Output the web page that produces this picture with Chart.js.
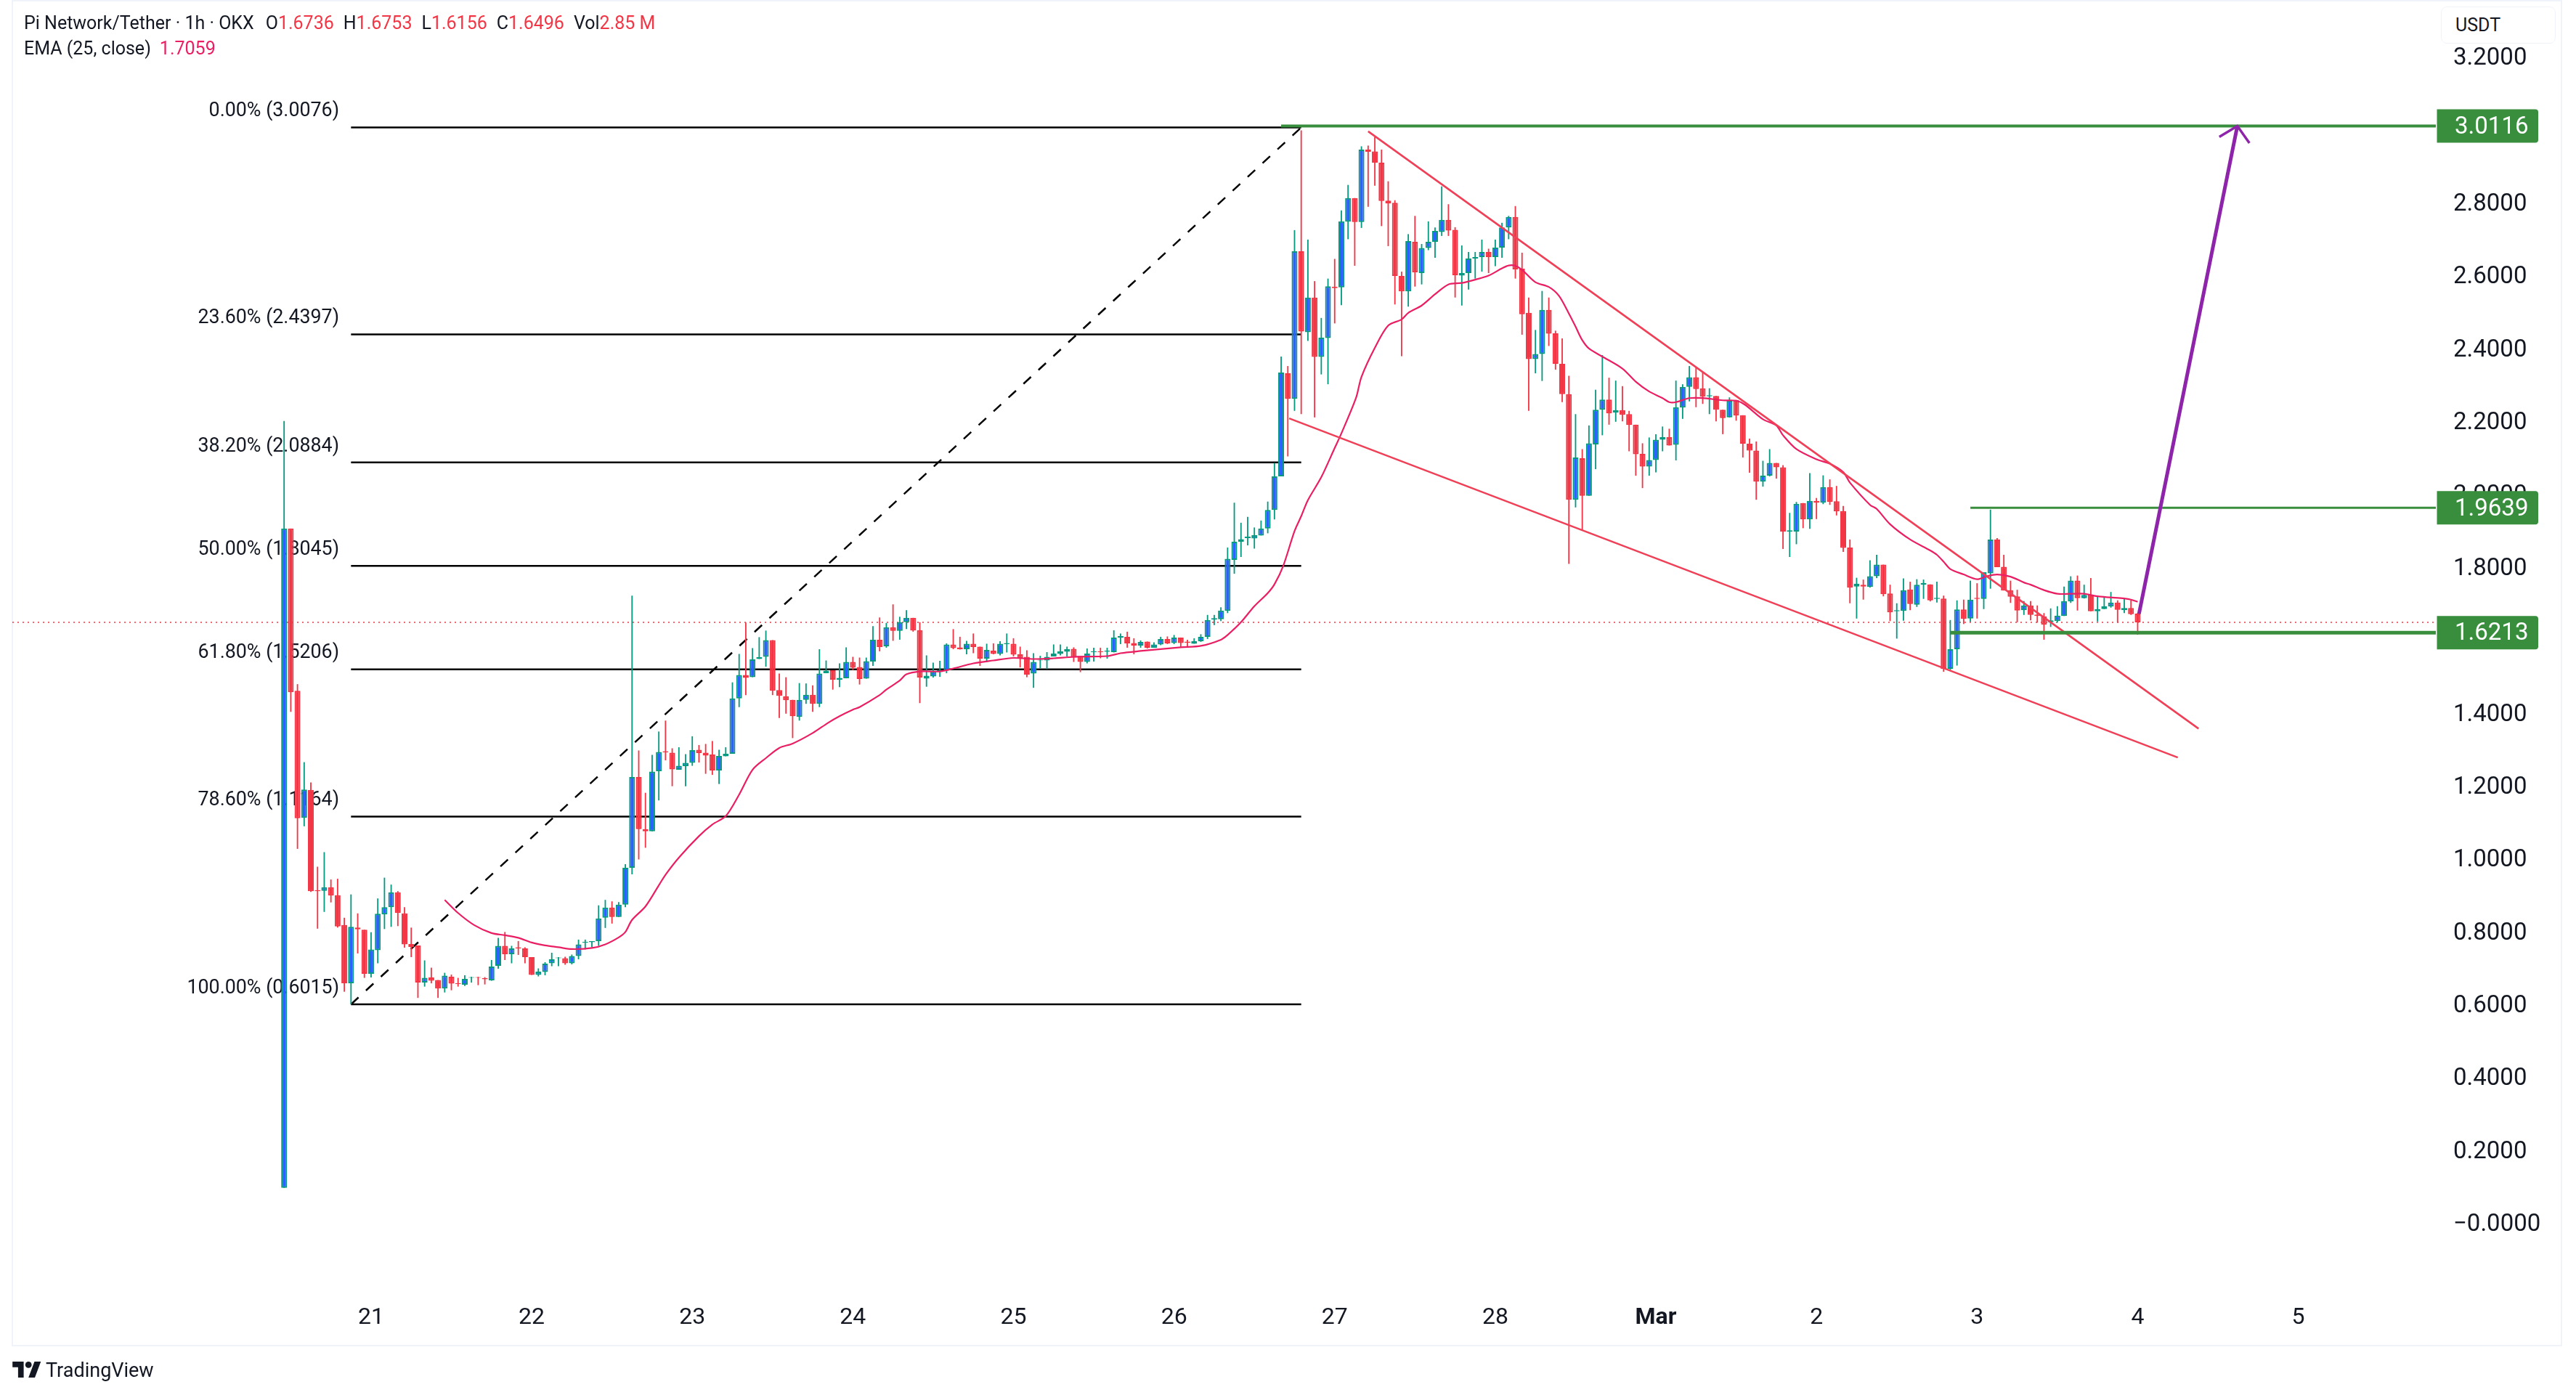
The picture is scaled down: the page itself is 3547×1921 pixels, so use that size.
<!DOCTYPE html>
<html>
<head>
<meta charset="utf-8">
<title>Pi Network/Tether 1h</title>
<script src="https://cdn.jsdelivr.net/npm/chart.js@4"></script>
<style>
  html, body { margin: 0; padding: 0; background: #fff; }
  body { width: 3547px; height: 1921px; position: relative; overflow: hidden; font-family: Roboto, sans-serif; color: #131722; }
  #frame { position: absolute; left: 16px; top: 0; width: 3508px; height: 1850px; border: 2px solid #f0f3fa; }
  #myChart { position: absolute; left: 0; top: 0; }
  .row { position: absolute; left: 33px; font-size: 25px; line-height: 34px; white-space: nowrap; }
  .row b { font-weight: 400; color: #f23645; margin-right: 13px; }
  .row i { font-style: normal; color: #e91e63; margin-left: 12px; }
  .row span { margin-right: 16px; }
  #usdt { position: absolute; left: 3361px; top: 9px; width: 137px; height: 49px; padding-left: 19px; border: 1px solid #f0f3fa; border-radius: 8px; background: #fff; font-size: 25px; line-height: 50px; }
  #logo { position: absolute; left: 17px; top: 1875px; width: 40px; height: 22px; }
  #brand { position: absolute; left: 63px; top: 1868px; font-size: 27px; line-height: 38px; color: #131722; }
</style>
</head>
<body>
<div id="frame"></div>
<canvas id="myChart" width="3547" height="1921"></canvas>
<div class="row" style="top:15px"><span>Pi Network/Tether · 1h · OKX</span><span style="margin-right:0">O</span><b>1.6736</b><span style="margin-right:0">H</span><b>1.6753</b><span style="margin-right:0">L</span><b>1.6156</b><span style="margin-right:0">C</span><b>1.6496</b><span style="margin-right:0">Vol</span><b>2.85 M</b></div>
<div class="row" style="top:50px">EMA (25, close)<i>1.7059</i></div>
<div id="usdt">USDT</div>
<svg id="logo" viewBox="0 0 36 20"><path fill="#131722" d="M14 20H7V7H0V0h14v20zM28 20h-8l7.5-20h8L28 20z"/><circle fill="#131722" cx="20" cy="4" r="4"/></svg>
<div id="brand">TradingView</div>

<script>
// hourly candles, index 0 is the first one on the chart, index 13 is 00:00 on the 21st
const opens = [
  0.098,1.907,1.462,1.113,1.19,0.915,0.913,0.923,0.901,0.819,
  0.659,0.812,0.806,0.685,0.75,0.848,0.868,0.909,0.851,0.767,
  0.763,0.661,0.675,0.668,0.645,0.677,0.659,0.655,0.674,0.676,
  0.673,0.667,0.707,0.762,0.739,0.758,0.755,0.731,0.682,0.69,
  0.714,0.728,0.728,0.714,0.734,0.771,0.772,0.775,0.839,0.867,
  0.841,0.875,0.976,1.225,1.082,1.076,1.241,1.296,1.292,1.245,
  1.255,1.264,1.3,1.292,1.287,1.243,1.282,1.289,1.441,1.505,
  1.499,1.549,1.555,1.601,1.464,1.447,1.437,1.39,1.437,1.451,
  1.426,1.51,1.518,1.492,1.496,1.541,1.527,1.495,1.542,1.602,
  1.584,1.636,1.626,1.65,1.662,1.628,1.495,1.501,1.513,1.517,
  1.589,1.581,1.576,1.591,1.583,1.55,1.572,1.563,1.59,1.591,
  1.562,1.555,1.509,1.545,1.545,1.556,1.563,1.569,1.577,1.557,
  1.541,1.568,1.57,1.569,1.568,1.608,1.61,1.593,1.586,1.597,
  1.58,1.589,1.604,1.593,1.608,1.597,1.591,1.598,1.61,1.657,
  1.658,1.681,1.821,1.871,1.881,1.88,1.888,1.907,1.958,2.05,
  2.333,2.263,2.668,2.446,2.541,2.378,2.43,2.571,2.569,2.749,
  2.814,2.748,2.947,2.942,2.911,2.807,2.801,2.6,2.558,2.694,
  2.608,2.677,2.694,2.721,2.754,2.727,2.601,2.608,2.648,2.652,
  2.666,2.652,2.678,2.733,2.762,2.62,2.499,2.372,2.386,2.507,
  2.443,2.359,2.276,1.986,2.1,1.997,2.138,2.233,2.261,2.225,
  2.232,2.221,2.192,2.112,2.077,2.095,2.151,2.158,2.137,2.239,
  2.296,2.322,2.292,2.27,2.271,2.233,2.212,2.26,2.218,2.14,
  2.121,2.036,2.052,2.087,2.075,1.899,1.899,1.977,1.932,1.983,
  1.978,2.021,1.982,1.955,1.855,1.748,1.753,1.747,1.776,1.808,
  1.729,1.68,1.681,1.74,1.698,1.753,1.754,1.714,1.715,1.522,
  1.576,1.685,1.66,1.717,1.714,1.784,1.877,1.802,1.738,1.721,
  1.683,1.696,1.671,1.666,1.65,1.653,1.667,1.707,1.764,1.716,
  1.726,1.68,1.686,1.693,1.704,1.683,1.689,1.6736
];
const highs = [
  2.202,1.907,1.48,1.266,1.21,0.979,1.019,0.944,0.946,0.839,
  0.903,0.851,0.806,0.799,0.892,0.949,0.93,0.912,0.868,0.812,
  0.763,0.722,0.702,0.668,0.688,0.683,0.674,0.681,0.677,0.677,
  0.676,0.723,0.784,0.8,0.762,0.775,0.758,0.731,0.7,0.717,
  0.743,0.731,0.732,0.738,0.779,0.779,0.775,0.873,0.888,0.884,
  0.882,0.986,1.723,1.298,1.182,1.286,1.35,1.38,1.304,1.307,
  1.288,1.337,1.313,1.316,1.324,1.3,1.307,1.485,1.563,1.649,
  1.579,1.609,1.627,1.601,1.509,1.499,1.437,1.483,1.482,1.477,
  1.576,1.545,1.518,1.537,1.581,1.555,1.553,1.553,1.639,1.663,
  1.648,1.699,1.665,1.683,1.662,1.65,1.559,1.539,1.544,1.592,
  1.631,1.61,1.599,1.619,1.583,1.591,1.592,1.598,1.619,1.606,
  1.583,1.573,1.565,1.558,1.568,1.589,1.589,1.583,1.581,1.557,
  1.578,1.58,1.58,1.58,1.628,1.619,1.624,1.606,1.6,1.597,
  1.595,1.61,1.611,1.615,1.608,1.602,1.606,1.617,1.67,1.67,
  1.691,1.855,1.978,1.923,1.939,1.91,1.929,1.981,2.087,2.379,
  2.353,2.726,3,2.7,2.586,2.485,2.593,2.647,2.78,2.85,
  2.814,2.956,2.958,2.982,2.947,2.86,2.808,2.612,2.715,2.765,
  2.688,2.75,2.733,2.846,2.797,2.734,2.684,2.666,2.666,2.7,
  2.675,2.7,2.746,2.765,2.792,2.664,2.541,2.452,2.559,2.541,
  2.45,2.429,2.326,2.221,2.125,2.19,2.288,2.383,2.321,2.313,
  2.298,2.23,2.192,2.141,2.157,2.166,2.187,2.181,2.313,2.303,
  2.353,2.349,2.335,2.292,2.271,2.233,2.267,2.26,2.218,2.154,
  2.146,2.093,2.125,2.087,2.081,1.95,1.98,1.977,2.059,1.991,
  2.053,2.042,2.024,1.969,1.877,1.772,1.767,1.82,1.835,1.808,
  1.753,1.702,1.77,1.761,1.768,1.767,1.754,1.761,1.723,1.656,
  1.71,1.712,1.764,1.757,1.787,1.959,1.881,1.835,1.764,1.739,
  1.708,1.708,1.696,1.675,1.688,1.694,1.748,1.776,1.778,1.753,
  1.771,1.722,1.718,1.733,1.71,1.716,1.71,1.6753
];
const lows = [
  0.098,1.404,1.028,1.09,0.91,0.809,0.855,0.881,0.812,0.636,
  0.6015,0.741,0.674,0.675,0.714,0.808,0.814,0.816,0.757,0.731,
  0.619,0.65,0.659,0.619,0.634,0.64,0.65,0.652,0.661,0.654,
  0.656,0.666,0.699,0.723,0.714,0.737,0.714,0.682,0.678,0.681,
  0.706,0.706,0.71,0.711,0.725,0.752,0.758,0.762,0.811,0.823,
  0.841,0.868,0.958,0.999,1.031,1.076,1.161,1.271,1.2,1.245,
  1.2,1.256,1.265,1.234,1.231,1.206,1.282,1.289,1.417,1.45,
  1.499,1.549,1.528,1.45,1.387,1.399,1.332,1.38,1.426,1.404,
  1.417,1.51,1.465,1.472,1.496,1.519,1.479,1.495,1.53,1.57,
  1.58,1.599,1.602,1.631,1.624,1.428,1.473,1.498,1.5,1.51,
  1.576,1.575,1.562,1.565,1.53,1.54,1.562,1.559,1.567,1.556,
  1.526,1.499,1.47,1.523,1.521,1.556,1.559,1.556,1.541,1.513,
  1.537,1.542,1.551,1.55,1.567,1.59,1.58,1.562,1.58,1.578,
  1.58,1.587,1.59,1.59,1.58,1.584,1.591,1.596,1.604,1.642,
  1.653,1.675,1.783,1.829,1.861,1.852,1.888,1.894,1.932,2.05,
  2.105,2.23,2.221,2.422,2.212,2.33,2.303,2.47,2.52,2.701,
  2.628,2.732,2.79,2.848,2.737,2.682,2.522,2.38,2.516,2.571,
  2.577,2.671,2.65,2.71,2.71,2.541,2.519,2.563,2.593,2.612,
  2.608,2.627,2.65,2.701,2.593,2.439,2.23,2.333,2.312,2.408,
  2.343,2.254,1.81,1.965,1.902,1.997,2.07,2.163,2.192,2.2,
  2.201,2.119,2.052,2.018,2.052,2.061,2.119,2.135,2.094,2.208,
  2.256,2.24,2.249,2.221,2.201,2.166,2.212,2.203,2.102,2.06,
  1.986,2.022,2.05,2.044,1.851,1.829,1.864,1.908,1.906,1.933,
  1.974,1.972,1.943,1.843,1.702,1.66,1.712,1.745,1.771,1.721,
  1.653,1.605,1.654,1.683,1.692,1.714,1.707,1.704,1.514,1.519,
  1.531,1.645,1.651,1.66,1.686,1.742,1.801,1.737,1.703,1.65,
  1.67,1.655,1.649,1.602,1.637,1.649,1.667,1.703,1.682,1.715,
  1.68,1.652,1.686,1.69,1.649,1.675,1.67,1.6156
];
const closes = [
  1.907,1.458,1.112,1.191,0.912,0.912,0.923,0.9,0.815,0.659,
  0.814,0.807,0.685,0.752,0.85,0.868,0.909,0.852,0.766,0.759,
  0.661,0.674,0.666,0.645,0.68,0.658,0.657,0.671,0.676,0.674,
  0.67,0.705,0.762,0.739,0.755,0.755,0.731,0.682,0.691,0.713,
  0.725,0.73,0.714,0.734,0.766,0.773,0.775,0.837,0.867,0.841,
  0.875,0.976,1.225,1.082,1.076,1.24,1.294,1.293,1.246,1.256,
  1.264,1.299,1.291,1.284,1.243,1.283,1.289,1.441,1.505,1.497,
  1.548,1.554,1.601,1.462,1.448,1.436,1.392,1.437,1.451,1.426,
  1.509,1.517,1.492,1.497,1.541,1.525,1.494,1.543,1.602,1.582,
  1.636,1.626,1.65,1.662,1.627,1.498,1.503,1.515,1.519,1.589,
  1.579,1.576,1.591,1.582,1.55,1.574,1.563,1.591,1.593,1.561,
  1.551,1.506,1.541,1.547,1.555,1.564,1.57,1.576,1.553,1.541,
  1.564,1.57,1.568,1.572,1.608,1.612,1.592,1.586,1.596,1.58,
  1.589,1.604,1.592,1.608,1.593,1.594,1.598,1.61,1.656,1.661,
  1.682,1.824,1.871,1.878,1.885,1.889,1.907,1.958,2.05,2.335,
  2.263,2.668,2.448,2.541,2.378,2.431,2.572,2.567,2.75,2.814,
  2.748,2.947,2.941,2.911,2.806,2.799,2.6,2.558,2.696,2.61,
  2.677,2.694,2.724,2.754,2.725,2.602,2.608,2.648,2.652,2.666,
  2.652,2.678,2.733,2.762,2.618,2.495,2.372,2.386,2.507,2.442,
  2.359,2.276,1.986,2.102,1.997,2.141,2.233,2.261,2.223,2.232,
  2.219,2.191,2.111,2.077,2.095,2.151,2.158,2.135,2.24,2.296,
  2.322,2.29,2.269,2.273,2.233,2.21,2.258,2.217,2.14,2.121,
  2.036,2.052,2.087,2.075,1.899,1.902,1.975,1.932,1.983,1.978,
  2.021,1.98,1.954,1.854,1.745,1.756,1.748,1.776,1.808,1.727,
  1.677,1.683,1.738,1.7,1.753,1.758,1.71,1.717,1.522,1.576,
  1.685,1.659,1.712,1.714,1.787,1.877,1.801,1.737,1.72,1.682,
  1.696,1.67,1.667,1.643,1.655,1.668,1.708,1.764,1.716,1.725,
  1.68,1.686,1.694,1.704,1.684,1.689,1.672,1.6496
];

// EMA (25, close) at these candle indexes
const emaIndex = [
  24,26,28.4,31,33,35,37,39,41,43,46,48,50,51,52,54,56,57,59,62,64,66,68,70,72,74,76,79,81.3,83,85,86,89,90,92,93,95,98,
  100,103,106,109,112,115,118,123,125,128,131,134,137,140,141,143,145,147,148,149.3,151,152,153,155,157,158,160.2,161,163,165,
  167,168,170,172,174,176,178,180,182,183,184,185,187,189,190.5,192,193,194,195,197,200,202,204,206,207,208,210,212,215,217,
  218.3,221,223,224,226,229,231,233,234,237,238,240,243,246,247,248,249,251,253,254.4,256,258,260,261,263,265,267,269,271,273,275,276,277
];
const emaValues = [
  0.888,0.852,0.819,0.797,0.791,0.784,0.771,0.763,0.758,0.753,0.756,0.766,0.785,0.8,0.833,0.87,0.928,0.957,1.004,1.063,1.095,1.118,1.177,1.245,1.277,1.305,1.317,1.346,1.374,1.392,1.41,1.417,1.45,1.465,1.49,1.507,1.515,1.515,
  1.523,1.537,1.545,1.552,1.549,1.551,1.555,1.557,1.565,1.571,1.576,1.581,1.585,1.602,1.615,1.65,1.694,1.73,1.754,1.804,1.9,1.941,1.985,2.048,2.128,2.168,2.266,2.323,2.403,2.464,
  2.481,2.499,2.519,2.55,2.577,2.581,2.59,2.601,2.621,2.629,2.628,2.617,2.583,2.57,2.546,2.497,2.461,2.424,2.401,2.379,2.346,2.31,2.283,2.265,2.254,2.254,2.265,2.265,2.259,2.258,
  2.247,2.207,2.19,2.163,2.125,2.097,2.085,2.062,2.033,1.972,1.961,1.919,1.877,1.847,1.835,1.816,1.796,1.781,1.768,1.776,1.781,1.775,1.759,1.753,1.738,1.728,1.728,1.728,1.721,1.718,1.715,1.712,1.7059
];

// fib retracement
const fibPercents = ['0.00%', '23.60%', '38.20%', '50.00%', '61.80%', '78.60%', '100.00%'];
const fibLevels = [3.0076, 2.4397, 2.0884, 1.8045, 1.5206, 1.1164, 0.6015];
const fibFrom = 10;
const fibTo = 152;

// drawings, as [candle index, price]
const upperWedge = [[162, 2.997], [286.1, 1.358]];
const lowerWedge = [[150.2, 2.2094], [283, 1.2787]];
const arrowShaft = [[277.2, 1.673], [291.9, 3.0116]];
const arrowHead = [[289.2, 2.982], [291.9, 3.0116], [293.7, 2.965]];

const priceLevels = [3.0116, 1.9639, 1.6213];
const levelStarts = [149, 252, 249];
const levelWidths = [4, 3, 5];
const lastClose = 1.6496;

const dayLabels = ['21', '22', '23', '24', '25', '26', '27', '28', 'Mar', '2', '3', '4', '5'];
const firstDayIndex = 13;
const hoursPerDay = 24;

const red = '#f23645';
const blue = '#2962ff';
const teal = '#089981';
const green = '#388e3c';
const xMin = -40.61, xMax = 321.56;

function segment(points, color, width, order, dash) {
    return {
        type: 'line',
        data: points.map(p => ({ x: p[0], y: p[1] })),
        borderColor: color,
        borderWidth: width,
        borderDash: dash || [],
        pointRadius: 0,
        tension: 0,
        order: order
    };
}

const isUp = opens.map((o, i) => closes[i] >= o);
const datasets = [];

fibLevels.forEach(level => datasets.push(segment([[fibFrom, level], [fibTo, level]], '#000', 2.5, 50)));
datasets.push(segment([[fibFrom, fibLevels[6]], [fibTo, fibLevels[0]]], '#000', 2.5, 50, [14, 14]));
datasets.push(segment([[xMin, lastClose], [xMax, lastClose]], red, 1.5, 40, [2, 5]));

datasets.push({
    data: opens.map((o, i) => ({ x: i, y: [lows[i], highs[i]] })),
    backgroundColor: isUp.map(up => up ? teal : red),
    grouped: false,
    barPercentage: 0.2,
    categoryPercentage: 1,
    order: 30
});
datasets.push({
    data: opens.map((o, i) => ({ x: i, y: [o, closes[i]] })),
    backgroundColor: isUp.map(up => up ? blue : red),
    borderColor: isUp.map(up => up ? teal : red),
    borderWidth: 2,
    borderSkipped: false,
    grouped: false,
    barPercentage: 0.87,
    categoryPercentage: 1,
    order: 20
});

const emaSet = segment(emaIndex.map((x, i) => [x, emaValues[i]]), '#e91e63', 2.2, 10);
emaSet.tension = 0.3;
datasets.push(emaSet);
datasets.push(segment(upperWedge, '#ef4058', 2.6, 5));
datasets.push(segment(lowerWedge, '#ef4058', 2.6, 5));
priceLevels.forEach((level, i) => {
    datasets.push(segment([[levelStarts[i], level], [xMax, level]], green, levelWidths[i], 3));
});
datasets.push(segment(arrowShaft, '#8e24aa', 5, 1));
datasets.push(segment(arrowHead, '#8e24aa', 3.5, 1));

// fib labels sit under the candles, the price tags on top of everything
const chartLabels = {
    id: 'chartLabels',
    beforeDatasetsDraw(chart) {
        const ctx = chart.ctx;
        const yScale = chart.scales.y;
        ctx.save();
        ctx.font = '26.8px Roboto';
        ctx.fillStyle = '#131722';
        ctx.textAlign = 'right';
        ctx.textBaseline = 'middle';
        fibLevels.forEach((level, i) => {
            ctx.fillText(fibPercents[i] + ' (' + level.toFixed(4) + ')', 467, yScale.getPixelForValue(level) - 22);
        });
        ctx.restore();
    },
    afterDatasetsDraw(chart) {
        const ctx = chart.ctx;
        const yScale = chart.scales.y;
        ctx.save();
        ctx.font = '33px Roboto';
        ctx.textAlign = 'left';
        ctx.textBaseline = 'middle';
        priceLevels.forEach(level => {
            const y = yScale.getPixelForValue(level);
            ctx.fillStyle = green;
            ctx.beginPath();
            ctx.roundRect(3355.5, y - 23, 139.5, 46, [0, 4, 4, 0]);
            ctx.fill();
            ctx.fillStyle = '#fff';
            ctx.fillText(level.toFixed(4), 3380, y + 2);
        });
        ctx.restore();
    }
};

new Chart(document.getElementById('myChart').getContext('2d'), {
    type: 'bar',
    data: { datasets: datasets },
    plugins: [chartLabels],
    options: {
        responsive: false,
        devicePixelRatio: 1,
        animation: false,
        events: [],
        layout: { padding: { left: 17, top: 3, right: 0, bottom: 0 } },
        plugins: { legend: { display: false }, tooltip: { enabled: false } },
        scales: {
            x: {
                type: 'linear',
                min: xMin,
                max: xMax,
                offset: false,
                grid: { display: false },
                border: { display: false },
                afterFit(axis) { axis.height = 141; axis.paddingLeft = 0; axis.paddingRight = 0; },
                afterBuildTicks(axis) {
                    axis.ticks = dayLabels.map((label, i) => ({ value: firstDayIndex + i * hoursPerDay }));
                },
                ticks: {
                    autoSkip: false,
                    maxRotation: 0,
                    padding: 8,
                    color: '#131722',
                    font: ctx => ({ family: 'Roboto', size: 32, weight: ctx.tick && ctx.tick.label === 'Mar' ? '700' : '400' }),
                    callback: value => dayLabels[(value - firstDayIndex) / hoursPerDay]
                }
            },
            y: {
                position: 'right',
                min: -0.1897,
                max: 3.3515,
                stacked: false,
                grid: { display: false },
                border: { display: false },
                afterFit(axis) { axis.width = 193; axis.paddingTop = 0; axis.paddingBottom = 0; },
                ticks: {
                    stepSize: 0.2,
                    includeBounds: false,
                    crossAlign: 'near',
                    padding: 16,
                    labelOffset: 2,
                    color: '#131722',
                    font: { family: 'Roboto', size: 33 },
                    callback: value => Math.abs(value) < 1e-6 ? '\u22120.0000' : value.toFixed(4)
                }
            }
        }
    }
});
</script>
</body>
</html>
